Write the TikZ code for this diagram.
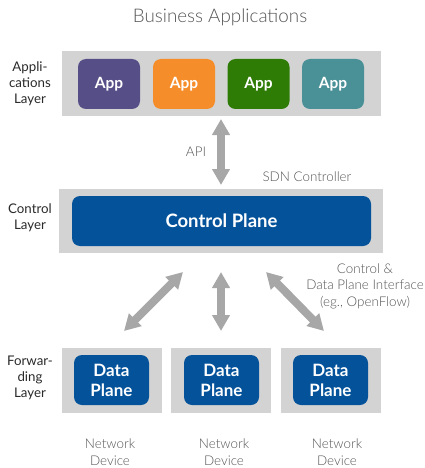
\documentclass[tikz,border=0pt]{standalone}
\usepackage{fontspec}
\setmainfont{Lato}
\newfontfamily\latolight{Lato Light}
\usetikzlibrary{arrows.meta}
\definecolor{bggray}{HTML}{D3D3D3}
\definecolor{arrgray}{HTML}{A7A7A7}
\definecolor{txtgray}{HTML}{555555}
\definecolor{txtdark}{HTML}{2A2A2A}
\definecolor{cpurple}{HTML}{564F87}
\definecolor{corange}{HTML}{F68D2B}
\definecolor{cgreen}{HTML}{2E7C05}
\definecolor{cteal}{HTML}{4A9097}
\definecolor{cblue}{HTML}{04529A}
\tikzset{
  layerbg/.style={fill=bggray, draw=none, inner sep=0pt, outer sep=0pt},
  appbox/.style={fill=#1, draw=none, rounded corners=8pt, minimum width=62pt, minimum height=50pt, inner sep=0pt, text=white, font=\fontsize{15.5}{18}\selectfont\bfseries},
  dpbox/.style={fill=cblue, draw=none, rounded corners=8pt, minimum width=75pt, minimum height=50pt, inner sep=0pt, text=white, align=center, font=\fontsize{17}{20}\selectfont\bfseries},
  layerlbl/.style={text=txtdark, align=center, font=\fontsize{13.3}{16}\selectfont},
  graylbl/.style={text=txtgray, align=center, font=\latolight\fontsize{13.4}{16.5}\selectfont},
  dblarrow/.style={draw=arrgray, line width=8pt, {Triangle[width=17pt,length=16pt]}-{Triangle[width=17pt,length=16pt]}, shorten <=0pt, shorten >=0pt}
}
\begin{document}
\begin{tikzpicture}[x=1pt,y=-1pt]
\useasboundingbox (0,0) rectangle (425,468);
% title
\node[text=txtgray, font=\latolight\fontsize{18.8}{22}\selectfont] (title) at (220,17) {Business Applications};
% application layer
\node[layerbg, minimum width=319pt, minimum height=65pt] (appbg) at (221.5,83.5) {};
\node[appbox=cpurple] (app1) at (109,84) {App};
\node[appbox=corange] (app2) at (184,84) {App};
\node[appbox=cgreen] (app3) at (258.5,84) {App};
\node[appbox=cteal] (app4) at (333,84) {App};
\node[layerlbl] (applbl) at (30,84) {Appli-\\cations\\Layer};
% control layer
\node[layerbg, minimum width=324pt, minimum height=64pt] (ctrlbg) at (221,221) {};
\node[fill=cblue, draw=none, rounded corners=8pt, minimum width=299pt, minimum height=50pt, inner sep=0pt, text=white, font=\fontsize{18.5}{20}\selectfont\bfseries] (cp) at (221.5,221) {Control Plane};
\node[layerlbl] (ctrllbl) at (30,218) {Control\\Layer};
\node[graylbl] (sdn) at (307,177) {SDN Controller};
\node[graylbl] (api) at (196,152) {API};
% API arrow
\coordinate (apitop) at (221,119);
\coordinate (apibot) at (221,185);
\draw[dblarrow] (apitop) -- (apibot);
% forwarding layer
\node[layerbg, minimum width=100pt, minimum height=65pt] (fw1) at (112,380.5) {};
\node[layerbg, minimum width=100pt, minimum height=65pt] (fw2) at (221,380.5) {};
\node[layerbg, minimum width=100pt, minimum height=65pt] (fw3) at (331,380.5) {};
\node[dpbox] (dp1) at (111.5,380) {Data\\Plane};
\node[dpbox] (dp2) at (221.5,380) {Data\\Plane};
\node[dpbox] (dp3) at (330.5,380) {Data\\Plane};
\node[layerlbl] (fwlbl) at (30,378) {Forwar-\\ding\\Layer};
\node[graylbl] (nd1) at (110,452) {Network\\Device};
\node[graylbl] (nd2) at (224,452) {Network\\Device};
\node[graylbl] (nd3) at (337,452) {Network\\Device};
\node[graylbl] (cdpi) at (365,286) {Control \&\\Data Plane Interface\\(eg., OpenFlow)};
% lower arrows
\coordinate (a1t) at (183,272);
\coordinate (a1b) at (124,331);
\coordinate (a2t) at (221,272);
\coordinate (a2b) at (221,331);
\coordinate (a3t) at (266,272);
\coordinate (a3b) at (324,331);
\draw[dblarrow] (a1t) -- (a1b);
\draw[dblarrow] (a2t) -- (a2b);
\draw[dblarrow] (a3t) -- (a3b);
\end{tikzpicture}
\end{document}
